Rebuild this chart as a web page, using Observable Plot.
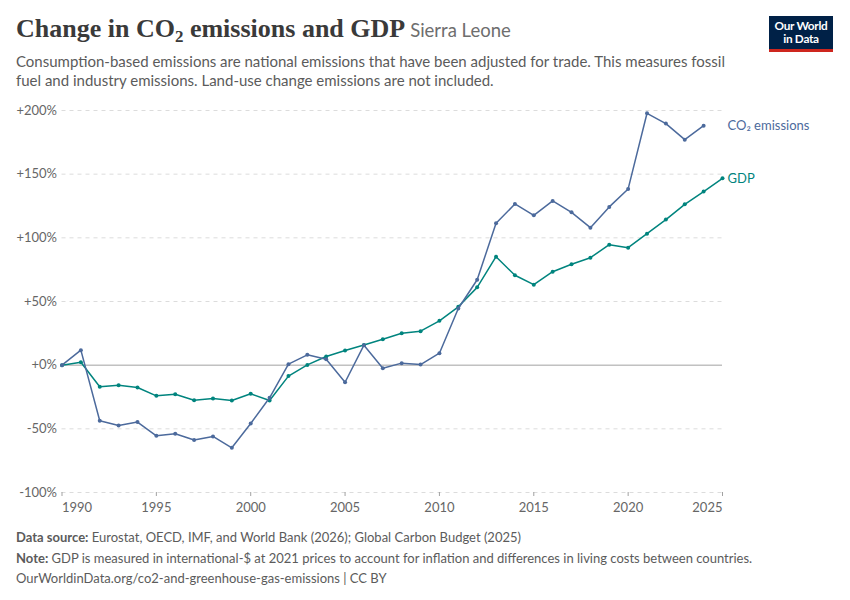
<!DOCTYPE html>
<html>
<head>
<meta charset="utf-8">
<script src="https://cdn.jsdelivr.net/npm/d3@7"></script>
<script src="https://cdn.jsdelivr.net/npm/@observablehq/plot@0.6"></script>
<style>
  html, body { margin: 0; padding: 0; background: #fff; }
  #wrap { position: relative; width: 850px; height: 600px; font-family: Lato, "Noto Sans", sans-serif; }
  #title { position: absolute; left: 16px; top: 14px; white-space: nowrap; }
  #title .main { font-family: "Liberation Serif", "DejaVu Serif", serif; font-weight: 700; font-size: 26px; color: #3a3a3a; }
  #title .ent { font-family: Lato, sans-serif; font-size: 18.5px; color: #6e6e6e; margin-left: 5px; }
  #subtitle { position: absolute; left: 16px; top: 52px; width: 740px; font-size: 15px; line-height: 18.5px; color: #5b5b5b; }
  #logo { position: absolute; left: 769px; top: 16px; width: 64px; height: 36px; background: #002147; border-bottom: 3.5px solid #ce261e; box-sizing: border-box; color: #fff; font-family: Lato, sans-serif; font-weight: 700; font-size: 11.8px; line-height: 13.6px; text-align: center; padding-top: 2.5px; letter-spacing: -0.3px; }
  #chart { position: absolute; left: 0; top: 96px; }
  #footer { position: absolute; left: 16px; top: 527px; font-size: 13px; line-height: 20.5px; color: #5b5b5b; }
  #footer b { font-weight: 700; }
</style>
</head>
<body>
<div id="wrap">
  <div id="title"><span class="main">Change in CO<sub style="font-size:17px;vertical-align:-5px;line-height:0">2</sub> emissions and GDP</span><span class="ent">Sierra Leone</span></div>
  <div id="subtitle">Consumption-based emissions are national emissions that have been adjusted for trade. This measures fossil<br>fuel and industry emissions. Land-use change emissions are not included.</div>
  <div id="logo"><div>Our World</div><div>in Data</div></div>
  <div id="chart"></div>
  <div id="footer">
    <div><b>Data source:</b> Eurostat, OECD, IMF, and World Bank (2026); Global Carbon Budget (2025)</div>
    <div><b>Note:</b> GDP is measured in international-$ at 2021 prices to account for inflation and differences in living costs between countries.</div>
    <div>OurWorldinData.org/co2-and-greenhouse-gas-emissions | CC BY</div>
  </div>
</div>
<script>
const co2Years = [1990,1991,1992,1993,1994,1995,1996,1997,1998,1999,2000,2001,2002,2003,2004,2005,2006,2007,2008,2009,2010,2011,2012,2013,2014,2015,2016,2017,2018,2019,2020,2021,2022,2023,2024];
const co2Values = [0,11.8,-43.7,-47.4,-44.7,-55.5,-53.9,-58.8,-56.0,-64.9,-45.8,-25.6,0.8,8.1,4.7,-13.4,15.7,-2.4,1.6,0.5,9.4,44.5,67.1,111.4,126.6,117.7,129.0,120.0,108.0,124.3,138.4,197.8,189.7,177.1,188.1];
const gdpYears = [1990,1991,1992,1993,1994,1995,1996,1997,1998,1999,2000,2001,2002,2003,2004,2005,2006,2007,2008,2009,2010,2011,2012,2013,2014,2015,2016,2017,2018,2019,2020,2021,2022,2023,2024,2025];
const gdpValues = [0,2.3,-17.0,-15.7,-17.5,-24.1,-22.8,-27.5,-26.2,-27.7,-22.5,-27.7,-8.6,0.2,6.8,11.5,15.9,20.4,25.1,26.7,34.8,45.8,61.1,85.2,70.6,63.2,73.4,79.2,84.4,94.6,92.3,103.3,114.3,126.3,136.3,146.7];
const yTicks = [-100,-50,0,50,100,150,200];
const xTicks = [1990,1995,2000,2005,2010,2015,2020,2025];
const seriesNames = ["CO₂ emissions","GDP"];
const seriesColors = ["#4c6a9c","#00847e"];

const co2 = co2Years.map((x,i)=>({year:x, value:co2Values[i]}));
const gdp = gdpYears.map((x,i)=>({year:x, value:gdpValues[i]}));
const labels = [
  {year: gdpYears[gdpYears.length-1], value: co2Values[co2Values.length-1], name: seriesNames[0], color: seriesColors[0]},
  {year: gdpYears[gdpYears.length-1], value: gdpValues[gdpValues.length-1], name: seriesNames[1], color: seriesColors[1]}
];
const fmt = d => d > 0 ? `+${d}%` : d === 0 ? "+0%" : `-${Math.abs(d)}%`;
const axisOpts = {tickSize: 4, tickPadding: 6, stroke: "#a1a1a1", fill: "#666", tickFormat: d => String(d), fontSize: 13, label: null};

const chart = Plot.plot({
  width: 850, height: 426,
  marginTop: 14, marginBottom: 30, marginLeft: 61.5, marginRight: 128,
  x: {domain: [1990, 2025], label: null},
  y: {domain: [-100, 200], label: null},
  style: {fontFamily: "Lato, sans-serif", fontSize: "13px", color: "#666", background: "transparent", overflow: "visible"},
  marks: [
    Plot.ruleY(yTicks.filter(d => d !== 0), {stroke: "#dcdcdc", strokeDasharray: "4,4", strokeWidth: 1}),
    Plot.ruleY([0], {stroke: "#a1a1a1", strokeWidth: 1}),
    Plot.axisY(yTicks, {tickSize: 0, tickPadding: 5, tickFormat: fmt, fill: "#666", fontSize: 13, label: null}),
    Plot.axisX([xTicks[0]], {...axisOpts, textAnchor: "start"}),
    Plot.axisX(xTicks.slice(1, -1), axisOpts),
    Plot.axisX([xTicks[xTicks.length-1]], {...axisOpts, textAnchor: "end"}),
    Plot.line(gdp, {x: "year", y: "value", stroke: seriesColors[1], strokeWidth: 1.5}),
    Plot.dot(gdp, {x: "year", y: "value", fill: seriesColors[1], r: 2}),
    Plot.line(co2, {x: "year", y: "value", stroke: seriesColors[0], strokeWidth: 1.5}),
    Plot.dot(co2, {x: "year", y: "value", fill: seriesColors[0], r: 2}),
    Plot.text(labels, {x: "year", y: "value", text: "name", fill: "color", dx: 5, textAnchor: "start", fontSize: 13})
  ]
});
document.getElementById("chart").appendChild(chart);
</script>
</body>
</html>
